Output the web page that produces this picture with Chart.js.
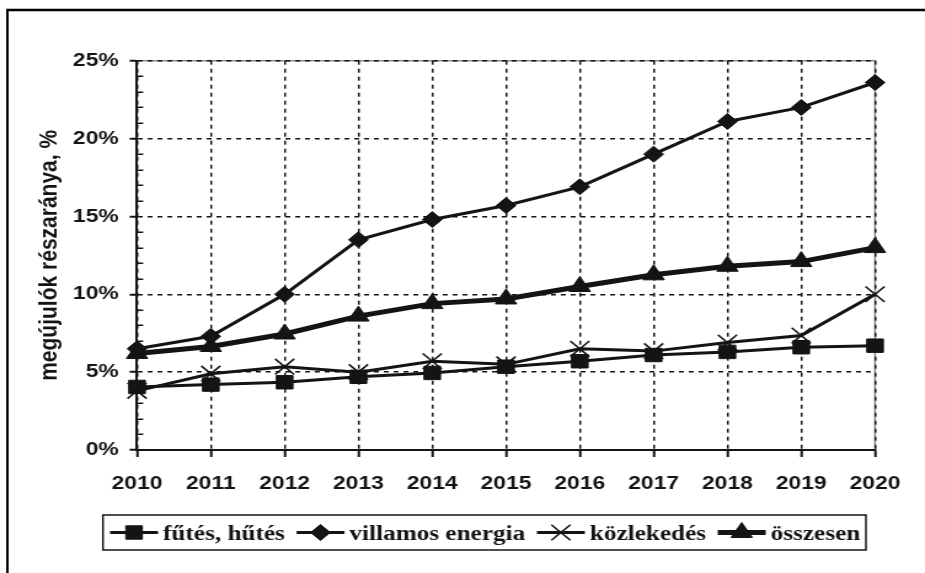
<!DOCTYPE html>
<html><head><meta charset="utf-8">
<script src="https://cdn.jsdelivr.net/npm/chart.js@4/dist/chart.umd.min.js"></script>
<style>
html,body{margin:0;padding:0;background:#fff;overflow:hidden}
#wrap{width:925px;height:573px;overflow:hidden;position:relative}
#c{position:absolute;left:0;top:0;transform:scaleX(1.23);transform-origin:0 0}
</style></head><body>
<div id="wrap"><canvas id="c" width="752" height="573"></canvas></div>
<script>
// ---- data ----
const years = ['2010','2011','2012','2013','2014','2015','2016','2017','2018','2019','2020'];
const futes = [4.05, 4.2, 4.35, 4.7, 4.95, 5.35, 5.7, 6.1, 6.3, 6.6, 6.7];
const villamos = [6.5, 7.3, 10.0, 13.5, 14.8, 15.7, 16.9, 19.0, 21.1, 22.0, 23.6];
const kozlekedes = [3.8, 4.9, 5.35, 5.0, 5.7, 5.5, 6.5, 6.35, 6.9, 7.35, 10.0];
const osszesen = [6.2, 6.65, 7.45, 8.6, 9.4, 9.7, 10.5, 11.25, 11.8, 12.1, 13.0];
const seriesNames = ['fűtés, hűtés', 'villamos energia', 'közlekedés', 'összesen'];
const yTicks = [0, 5, 10, 15, 20, 25];
const yTitle = 'megújulók részaránya, %';

const INK = '#141414';
const W = 752, H = 573;

function drawMarker(ctx, style, r, x, y, bw) {
  ctx.save();
  ctx.fillStyle = INK; ctx.strokeStyle = INK; ctx.lineWidth = bw;
  ctx.beginPath();
  if (style === 'rect') {
    const s = Math.SQRT1_2 * r;
    ctx.rect(x - s, y - s, 2 * s, 2 * s);
    ctx.fill(); ctx.stroke();
  } else if (style === 'rectRot') {
    ctx.moveTo(x - r, y); ctx.lineTo(x, y - r); ctx.lineTo(x + r, y); ctx.lineTo(x, y + r); ctx.closePath();
    ctx.fill(); ctx.stroke();
  } else if (style === 'triangle') {
    let a = 0;
    ctx.moveTo(x + Math.sin(a) * r, y - Math.cos(a) * r);
    a += 2 * Math.PI / 3; ctx.lineTo(x + Math.sin(a) * r, y - Math.cos(a) * r);
    a += 2 * Math.PI / 3; ctx.lineTo(x + Math.sin(a) * r, y - Math.cos(a) * r);
    ctx.closePath(); ctx.fill(); ctx.stroke();
  } else if (style === 'crossRot') {
    const d = Math.SQRT1_2 * r;
    ctx.moveTo(x - d, y - d); ctx.lineTo(x + d, y + d);
    ctx.moveTo(x + d, y - d); ctx.lineTo(x - d, y + d);
    ctx.stroke();
  }
  ctx.restore();
}

const decorPlugin = {
  id: 'decor',
  beforeDraw(chart) {
    const {ctx, chartArea: a} = chart;
    ctx.save();
    ctx.strokeStyle = '#8a8a8a'; ctx.lineWidth = 1.5;
    ctx.beginPath();
    ctx.moveTo(a.left, a.top); ctx.lineTo(a.right, a.top); ctx.lineTo(a.right, a.bottom);
    ctx.stroke();
    ctx.restore();
  },
  afterDraw(chart) {
    const {ctx, chartArea: a, scales} = chart;
    const y = scales.y;
    ctx.save();
    // minor ticks inside
    ctx.strokeStyle = INK; ctx.lineWidth = 1.5;
    ctx.beginPath();
    for (let v = 1; v < 25; v++) {
      if (v % 5 === 0) continue;
      const py = Math.round(y.getPixelForValue(v)) + 0.25;
      ctx.moveTo(a.left, py); ctx.lineTo(a.left + 5, py);
    }
    ctx.stroke();
    // outer frame
    ctx.strokeStyle = '#000';
    ctx.lineWidth = 2.5;
    ctx.beginPath(); ctx.moveTo(5, 10); ctx.lineTo(W + 5, 10); ctx.stroke();
    ctx.lineWidth = 2;
    ctx.beginPath(); ctx.moveTo(6, 9); ctx.lineTo(6, H + 5); ctx.stroke();
    // legend
    const box = {l: 83.7, r: 704, t: 515, b: 550};
    ctx.lineWidth = 1.5; ctx.strokeStyle = INK;
    ctx.strokeRect(box.l, box.t, box.r - box.l, box.b - box.t);
    ctx.font = 'bold 20.5px "Liberation Serif", "Times New Roman", serif';
    ctx.fillStyle = INK; ctx.textBaseline = 'alphabetic'; ctx.textAlign = 'left';
    let x = 89.5;
    const ly = 532.5;
    chart.data.datasets.forEach((ds) => {
      const len = 39;
      ctx.strokeStyle = INK; ctx.lineWidth = ds.borderWidth;
      ctx.beginPath(); ctx.moveTo(x, ly); ctx.lineTo(x + len, ly); ctx.stroke();
      drawMarker(ctx, ds.pointStyle, ds.pointRadius, x + len / 2, ly, ds.pointBorderWidth);
      x += len + 4;
      ctx.fillText(ds.label, x, 540);
      x += ctx.measureText(ds.label).width + 9.5;
    });
    ctx.restore();
  }
};

const tickFont = {family: '"Liberation Sans", Arial, sans-serif', weight: 'bold', size: 18.5};

new Chart(document.getElementById('c'), {
  type: 'line',
  data: {
    labels: years,
    datasets: [
      {label: seriesNames[0], data: futes, borderColor: INK, backgroundColor: INK, borderWidth: 3,
       pointStyle: 'rect', pointRadius: 9.5, pointBorderWidth: 1, pointBackgroundColor: INK, pointBorderColor: INK},
      {label: seriesNames[1], data: villamos, borderColor: INK, backgroundColor: INK, borderWidth: 3,
       pointStyle: 'rectRot', pointRadius: 8, pointBorderWidth: 1, pointBackgroundColor: INK, pointBorderColor: INK},
      {label: seriesNames[2], data: kozlekedes, borderColor: INK, backgroundColor: INK, borderWidth: 3,
       pointStyle: 'crossRot', pointRadius: 11, pointBorderWidth: 1.6, pointBackgroundColor: INK, pointBorderColor: INK},
      {label: seriesNames[3], data: osszesen, borderColor: INK, backgroundColor: INK, borderWidth: 5,
       pointStyle: 'triangle', pointRadius: 10, pointBorderWidth: 1, pointBackgroundColor: INK, pointBorderColor: INK}
    ]
  },
  options: {
    responsive: false, animation: false, devicePixelRatio: 1,
    layout: {padding: {left: 20, top: 60.7, right: 40.6, bottom: 0}},
    elements: {line: {tension: 0}, point: {hoverRadius: 9}},
    plugins: {legend: {display: false}, tooltip: {enabled: false}, title: {display: false}},
    scales: {
      x: {
        type: 'category',
        grid: {color: INK, lineWidth: 1.5, tickLength: 7, tickColor: INK, tickWidth: 2},
        border: {color: INK, width: 2, dash: [4, 4]},
        ticks: {color: INK, font: tickFont, padding: 16, maxRotation: 0, autoSkip: false},
        afterFit: (s) => { s.height = 123; }
      },
      y: {
        min: 0, max: 25,
        afterBuildTicks: (s) => { s.ticks = yTicks.map(v => ({value: v})); },
        grid: {color: INK, lineWidth: 1.5, tickLength: 6, tickColor: INK, tickWidth: 2},
        border: {color: INK, width: 2, dash: [4, 4]},
        ticks: {color: INK, font: tickFont, padding: 9, callback: (v) => v + '%'},
        title: {display: true, text: yTitle, color: INK,
                font: {family: '"Liberation Sans", Arial, sans-serif', weight: 'bold', size: 21},
                padding: {top: 8, bottom: 0}},
        afterFit: (s) => { s.width = 91.4; }
      }
    }
  },
  plugins: [decorPlugin]
});
</script>
</body></html>
